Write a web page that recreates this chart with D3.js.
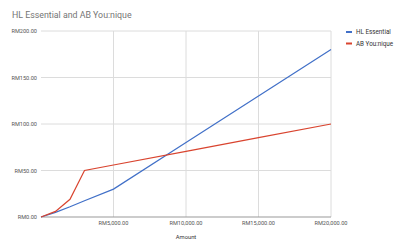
<!DOCTYPE html>
<html>
<head>
<meta charset="utf-8">
<script src="https://cdn.jsdelivr.net/npm/d3@7"></script>
<style>
  body { margin: 0; background: #fff; }
  text { font-family: Roboto, "Noto Sans", sans-serif; }
</style>
</head>
<body>
<div id="chart-area"></div>
<script>
// data
const amounts = [0, 1000, 2000, 3000, 5000, 10000, 15000, 20000]
const hlEssential = [0, 5, 11, 17.5, 30, 80, 130, 180]
const abYounique = [0, 6, 19, 50, 55.9, 70.6, 85.3, 100]
const seriesNames = ["HL Essential", "AB You:nique"]
const xTicks = [5000, 10000, 15000, 20000]
const yTicks = [0, 50, 100, 150, 200]

const W = 400, H = 249
const MARGIN = { LEFT: 41, RIGHT: 69, TOP: 31, BOTTOM: 32 }
const WIDTH = W - MARGIN.LEFT - MARGIN.RIGHT
const HEIGHT = H - MARGIN.TOP - MARGIN.BOTTOM
const colors = ["#4170c8", "#d9442f"]

const svg = d3.select("#chart-area").append("svg")
  .attr("width", W)
  .attr("height", H)

svg.append("text")
  .attr("x", 12).attr("y", 18)
  .attr("font-size", 8.8)
  .attr("fill", "#757575")
  .text("HL Essential and AB You:nique")

const g = svg.append("g")
  .attr("transform", `translate(${MARGIN.LEFT},${MARGIN.TOP})`)

const x = d3.scaleLinear().domain([0, 20000]).range([0, WIDTH])
const y = d3.scaleLinear().domain([0, 200]).range([HEIGHT, 0])

const fmt = v => "RM" + d3.format(",.2f")(v)

// grid
g.selectAll(".hgrid").data(yTicks.filter(d => d > 0)).enter().append("line")
  .attr("x1", 0).attr("x2", WIDTH)
  .attr("y1", d => y(d)).attr("y2", d => y(d))
  .attr("stroke", "#dcdcdc").attr("stroke-width", 1)
g.selectAll(".vgrid").data(xTicks).enter().append("line")
  .attr("x1", d => x(d)).attr("x2", d => x(d))
  .attr("y1", 0).attr("y2", HEIGHT)
  .attr("stroke", "#dcdcdc").attr("stroke-width", 1)

// y labels
g.selectAll(".ylab").data(yTicks).enter().append("text")
  .attr("x", -4).attr("y", d => y(d) + 2)
  .attr("text-anchor", "end")
  .attr("font-size", 5.6)
  .attr("fill", "#555")
  .text(fmt)

// x labels
g.selectAll(".xlab").data(xTicks).enter().append("text")
  .attr("x", d => x(d)).attr("y", HEIGHT + 8)
  .attr("text-anchor", "middle")
  .attr("font-size", 5.6)
  .attr("fill", "#555")
  .text(fmt)

g.append("text")
  .attr("x", x(10000)).attr("y", HEIGHT + 22)
  .attr("text-anchor", "middle")
  .attr("font-size", 5.8)
  .attr("fill", "#333")
  .text("Amount")

// baseline
g.append("line")
  .attr("x1", 0).attr("x2", WIDTH)
  .attr("y1", y(0)).attr("y2", y(0))
  .attr("stroke", "#999").attr("stroke-width", 1.2)

// lines
const line = d3.line().x((d, i) => x(amounts[i])).y(d => y(d))
;[hlEssential, abYounique].forEach((s, k) => {
  g.append("path")
    .datum(s)
    .attr("d", line)
    .attr("fill", "none")
    .attr("stroke", colors[k])
    .attr("stroke-width", 1.2)
})

// legend
const lg = svg.append("g").attr("transform", "translate(346,32)")
seriesNames.forEach((n, i) => {
  lg.append("rect")
    .attr("x", 0).attr("y", i * 11.5 - 1)
    .attr("width", 6).attr("height", 2)
    .attr("fill", colors[i])
  lg.append("text")
    .attr("x", 10).attr("y", i * 11.5 + 2)
    .attr("font-size", 6.3)
    .attr("fill", "#333")
    .text(n)
})
</script>
</body>
</html>
